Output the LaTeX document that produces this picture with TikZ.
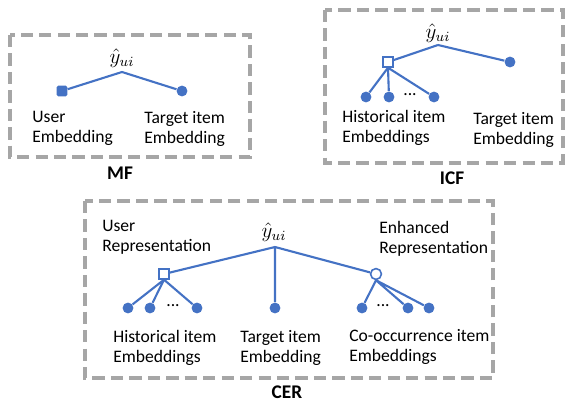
\documentclass[tikz,border=0pt]{standalone}
\usepackage{fontspec}
\setmainfont{Carlito}
\usetikzlibrary{positioning}
\definecolor{lineblue}{HTML}{4472C4}
\definecolor{boxgray}{HTML}{A6A6A6}

\begin{document}
\begin{tikzpicture}[x=0.02cm,y=-0.02cm,
		emb/.style={circle,fill=lineblue,inner sep=0pt,minimum size=6.2pt},
		usr/.style={rectangle,rounded corners=0.8pt,fill=lineblue,inner sep=0pt,minimum size=6pt},
		agg/.style={rectangle,draw=lineblue,fill=white,line width=0.9pt,inner sep=0pt,minimum size=5.6pt},
		enh/.style={circle,draw=lineblue,fill=white,line width=0.9pt,inner sep=0pt,minimum size=6.2pt},
		lbl/.style={anchor=west,align=left,inner sep=0pt,font=\fontsize{10}{11.4}\selectfont},
		ttl/.style={inner sep=0pt,font=\fontsize{11}{13}\selectfont\bfseries},
		pred/.style={inner sep=0pt,font=\large},
		dots/.style={inner sep=0pt,font=\fontsize{10}{11}\selectfont},
		frame/.style={draw=boxgray,line width=2pt,dash pattern=on 7pt off 3.5pt},
		link/.style={draw=lineblue,line width=1.2pt}]
	\useasboundingbox (0,0) rectangle (566,402);

	% MF
	\draw[frame] (10,35) rectangle (250,157);
	\node[ttl] (mf) at (120,173) {MF};
	\node[pred] (mfy) at (122,58) {$\hat{y}_{ui}$};
	\coordinate (mfa) at (122,72);
	\node[usr] (mfu) at (62,91) {};
	\node[emb] (mft) at (182,91) {};
	\node[lbl] (mful) at (32,128) {User\\Embedding};
	\node[lbl] (mftl) at (144,129) {Target item\\Embedding};
	\draw[link] (mfa) -- (mfu)
		(mfa) -- (mft);

	% ICF
	\draw[frame] (325,10) rectangle (563,163);
	\node[ttl] (icf) at (452,178) {ICF};
	\node[pred] (icfy) at (438,33) {$\hat{y}_{ui}$};
	\coordinate (icfa) at (438,45);
	\node[agg] (icfs) at (388,62) {};
	\node[emb] (icft) at (510,62) {};
	\node[emb] (icfh1) at (366,97) {};
	\node[emb] (icfh2) at (389,97) {};
	\node[emb] (icfh3) at (434,97) {};
	\node[dots] (icfd) at (410,95) {...};
	\node[lbl] (icfhl) at (342,128) {Historical item\\Embeddings};
	\node[lbl] (icftl) at (473,130) {Target item\\Embedding};
	\draw[link] (icfa) -- (icfs)
		(icfa) -- (icft)
		(icfs.south) -- (icfh1)
		(icfs.south) -- (icfh2)
		(icfs.south) -- (icfh3);

	% CER
	\draw[frame] (85,201) rectangle (493,378);
	\node[ttl] (cer) at (287,392) {CER};
	\node[pred] (cery) at (274,232) {$\hat{y}_{ui}$};
	\coordinate (cera) at (275,247);
	\node[agg] (cers) at (164,274) {};
	\node[enh] (cerc) at (376,274) {};
	\node[emb] (cert) at (275,308) {};
	\node[emb] (cerh1) at (128,308) {};
	\node[emb] (cerh2) at (150,308) {};
	\node[emb] (cerh3) at (197,308) {};
	\node[dots] (cerhd) at (173,306) {...};
	\node[emb] (cero1) at (362,308) {};
	\node[emb] (cero2) at (408,308) {};
	\node[emb] (cero3) at (429,308) {};
	\node[dots] (cerod) at (383,306) {...};
	\node[lbl] (cerul) at (102,237) {User\\Representation};
	\node[lbl] (cerel) at (379,239) {Enhanced\\Representation};
	\node[lbl] (cerhl) at (113,348) {Historical item\\Embeddings};
	\node[lbl] (certl) at (240,348) {Target item\\Embedding};
	\node[lbl] (cerol) at (349,347) {Co-occurrence item\\Embeddings};
	\draw[link] (cera) -- (cers)
		(cera) -- (cerc)
		(cera) -- (cert)
		(cers.south) -- (cerh1)
		(cers.south) -- (cerh2)
		(cers.south) -- (cerh3)
		(cerc.south) -- (cero1)
		(cerc.south) -- (cero2)
		(cerc.south) -- (cero3);
\end{tikzpicture}
\end{document}
